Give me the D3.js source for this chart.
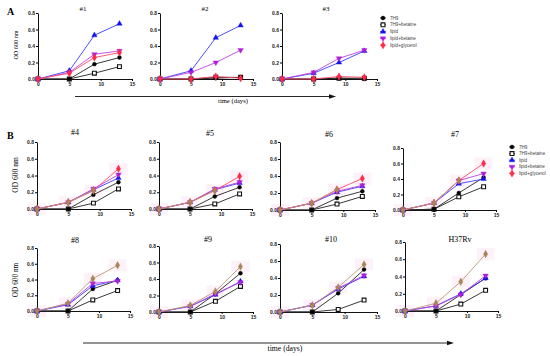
<!DOCTYPE html>
<html>
<head>
<meta charset="utf-8">
<script src="https://cdn.jsdelivr.net/npm/d3@7"></script>
<style>
  body { margin: 0; background: #fff; }
  svg { display: block; }
  .tick text { font-family: "Liberation Sans", Arial, sans-serif; font-size: 5px; font-weight: bold; fill: #222; }
  text.serif { font-family: "Liberation Serif", "Times New Roman", serif; fill: #000; }
  .legend text { font-family: "Liberation Sans", Arial, sans-serif; font-size: 4.6px; fill: #444; }
</style>
</head>
<body>
<div id="chart"></div>
<script>
// sampling days and series
let days = [0, 5, 9, 13];
let seriesNames = ["7H9", "7H9+betaine", "lipid", "lipid+betaine", "lipid+glycerol"];
let panelTitles = ["#1", "#2", "#3", "#4", "#5", "#6", "#7", "#8", "#9", "#10", "H37Rv"];
let yTicks = [0, 0.2, 0.4, 0.6, 0.8];
let xTicks = [0, 5, 10, 15];

// OD600 values, one row per panel (same order as panelTitles)
let od7H9 = [
  [0, 0, 0.18, 0.26], [0, 0, 0.01, 0.02], [0, 0, 0.01, 0.0],
  [0, 0, 0.17, 0.32], [0, 0, 0.15, 0.26], [0, 0, 0.14, 0.22], [0, 0.01, 0.22, 0.42],
  [0, 0, 0.28, 0.39], [0, 0, 0.22, 0.47], [0, 0, 0.22, 0.50], [0, 0, 0.19, 0.38]
];
let od7H9Betaine = [
  [0, 0, 0.07, 0.15], [0, 0, 0.02, 0.02], [0, 0, 0.01, 0.01],
  [0, 0, 0.07, 0.24], [0, 0, 0.06, 0.18], [0, 0, 0.07, 0.16], [0, 0.01, 0.17, 0.30],
  [0, 0, 0.14, 0.26], [0, 0, 0.13, 0.31], [0, 0, 0.03, 0.14], [0, 0, 0.08, 0.24]
];
let odLipid = [
  [0, 0.10, 0.53, 0.67], [0, 0.10, 0.50, 0.65], [0, 0.07, 0.20, 0.34],
  [0, 0.08, 0.23, 0.37], [0, 0.08, 0.23, 0.31], [0, 0.08, 0.21, 0.28], [0, 0.09, 0.34, 0.40],
  [0, 0.08, 0.32, 0.39], [0, 0.07, 0.21, 0.37], [0, 0.08, 0.27, 0.42], [0, 0.06, 0.20, 0.38]
];
let odLipidBetaine = [
  [0, 0.08, 0.30, 0.34], [0, 0.08, 0.20, 0.35], [0, 0.08, 0.25, 0.35],
  [0, 0.08, 0.24, 0.41], [0, 0.08, 0.24, 0.32], [0, 0.08, 0.22, 0.29], [0, 0.09, 0.38, 0.47],
  [0, 0.09, 0.35, 0.38], [0, 0.07, 0.22, 0.36], [0, 0.08, 0.28, 0.43], [0, 0.06, 0.19, 0.41]
];
let odLipidGlycerol = [
  [0, 0.07, 0.26, 0.32], [0, 0, 0.03, 0.01], [0, 0, 0.03, 0.02],
  [0, 0.08, 0.22, 0.48], [0, 0.08, 0.22, 0.39], [0, 0.08, 0.24, 0.37], [0, 0.09, 0.38, 0.60],
  null, null, null, null
];
// tan series seen in panel B
let odGlycerolTan = [
  null, null, null,
  [0, 0.08, 0.22, null], [0, 0.08, 0.22, null], [0, 0.08, 0.24, null], [0, 0.09, 0.38, null],
  [0, 0.10, 0.41, 0.58], [0, 0.08, 0.25, 0.55], [0, 0.08, 0.29, 0.56], [0, 0.09, 0.34, 0.66]
];

// panel placement (left of axis, y of 0.0, y of 0.8, width of 0..15)
let panelBoxes = [
  {x: 38, y0: 79, yTop: 13, w: 94}, {x: 160, y0: 79, yTop: 13, w: 93}, {x: 282, y0: 79, yTop: 13, w: 95},
  {x: 37, y0: 209, yTop: 142, w: 94}, {x: 159, y0: 209, yTop: 142, w: 93}, {x: 280, y0: 210, yTop: 142, w: 95}, {x: 403, y0: 210, yTop: 148, w: 93},
  {x: 37, y0: 311, yTop: 248, w: 93}, {x: 159, y0: 312, yTop: 246, w: 94}, {x: 280, y0: 312, yTop: 244, w: 97}, {x: 405, y0: 311, yTop: 242, w: 93}
];
let titlePos = [[83, 11], [205, 11], [326, 11], [75, 135], [210, 136], [329, 137], [455, 137], [75, 243], [208, 242], [331, 242], [460, 242]];

let width = 550, height = 356;

let styles = [
  {data: od7H9Betaine, color: "#111", line: "#222", type: d3.symbolSquare, size: 15, open: true},
  {data: od7H9, color: "#000", line: "#222", type: d3.symbolCircle, size: 12},
  {data: odLipid, color: "#1414f0", line: "#3a3aff", type: d3.symbolTriangle, size: 13},
  {data: odLipidBetaine, color: "#b01ed8", line: "#c040e0", type: d3.symbolTriangle, size: 13, flip: true},
  {data: odLipidGlycerol, color: "#ff2a48", line: "#ff4a68", type: d3.symbolDiamond, size: 16},
  {data: odGlycerolTan, color: "#a98558", line: "#b89870", type: d3.symbolDiamond, size: 16}
];
let legendStyles = [styles[1], styles[0], styles[2], styles[3], styles[4]];

let svg = d3.select("#chart").append("svg")
  .attr("width", width)
  .attr("height", height);

// draw each panel
panelTitles.forEach(function(title, i) {
  let box = panelBoxes[i];
  let x = d3.scaleLinear().domain([0, 15]).range([box.x, box.x + box.w]);
  let y = d3.scaleLinear().domain([0, 0.8]).range([box.y0, box.yTop]);
  let g = svg.append("g");

  // faint pink haze behind top points in B
  if (odGlycerolTan[i]) {
    g.selectAll(".haze")
      .data(days.map(function(d, j) { return [d, odGlycerolTan[i][j] != null ? odGlycerolTan[i][j] : odLipidGlycerol[i][j]]; }))
      .enter().append("rect")
      .attr("x", function(d) { return x(d[0]) - 9; })
      .attr("y", function(d) { return y(d[1]) - 6; })
      .attr("width", 18)
      .attr("height", 12)
      .style("fill", "#fbe6f4")
      .style("opacity", 0.5);
  }

  g.append("g")
    .attr("transform", "translate(" + box.x + ",0)")
    .call(d3.axisLeft(y).tickValues(yTicks).tickFormat(d3.format(".1f")).tickSize(2).tickSizeOuter(0).tickPadding(1))
    .call(function(a) { a.select(".domain").attr("stroke", "#111"); });
  g.append("g")
    .attr("transform", "translate(0," + box.y0 + ")")
    .call(d3.axisBottom(x).tickValues(xTicks).tickFormat(d3.format("d")).tickSize(2).tickSizeOuter(0).tickPadding(1))
    .call(function(a) { a.select(".domain").attr("stroke", "#111"); });

  styles.forEach(function(s) {
    let vals = s.data[i];
    if (!vals) return;
    let pts = days.map(function(d, j) { return [d, vals[j]]; }).filter(function(p) { return p[1] != null; });
    g.append("path")
      .datum(pts)
      .attr("d", d3.line().x(function(p) { return x(p[0]); }).y(function(p) { return y(p[1]); }))
      .style("fill", "none")
      .style("stroke", s.line)
      .style("stroke-width", 0.9);
    g.selectAll(null)
      .data(pts)
      .enter().append("path")
      .attr("d", d3.symbol().type(s.type).size(s.size))
      .attr("transform", function(p) { return "translate(" + x(p[0]) + "," + y(p[1]) + ")" + (s.flip ? " rotate(180)" : ""); })
      .style("fill", s.open ? "#fff" : s.color)
      .style("stroke", s.color)
      .style("stroke-width", s.open ? 1.1 : 0.4);
  });

  g.append("text")
    .attr("class", "serif")
    .attr("x", titlePos[i][0])
    .attr("y", titlePos[i][1])
    .attr("text-anchor", "middle")
    .style("font-size", i < 3 ? "7px" : "8px")
    .text(title);
});

// panel letters
svg.append("text").attr("class", "serif").attr("x", 7).attr("y", 15)
  .style("font-size", "10px").style("font-weight", "bold").text("A");
svg.append("text").attr("class", "serif").attr("x", 7).attr("y", 139)
  .style("font-size", "10px").style("font-weight", "bold").text("B");

// y titles
[[16, 45, 6.2], [16, 175, 7.5], [16, 280, 7.3]].forEach(function(p) {
  svg.append("text")
    .attr("class", "serif")
    .attr("transform", "translate(" + (p[0] + 2) + "," + p[1] + ") rotate(-90)")
    .attr("text-anchor", "middle")
    .style("font-size", p[2] + "px")
    .text("OD 600 nm");
});

// time arrows
function timeArrow(x1, x2, yy, tx, ty, fs) {
  svg.append("line")
    .attr("x1", x1).attr("x2", x2 - 6)
    .attr("y1", yy).attr("y2", yy)
    .style("stroke", "#111").style("stroke-width", 0.9);
  svg.append("path")
    .attr("d", "M" + x2 + "," + yy + "L" + (x2 - 7) + "," + (yy - 2.2) + "L" + (x2 - 7) + "," + (yy + 2.2) + "Z")
    .style("fill", "#111");
  svg.append("text")
    .attr("class", "serif")
    .attr("x", tx)
    .attr("y", ty)
    .attr("text-anchor", "middle")
    .style("font-size", fs + "px")
    .text("time (days)");
}
timeArrow(75, 336, 96.5, 233, 103, 6.6);
timeArrow(83, 454, 343, 285, 351, 7.7);

// legends
function drawLegend(lx, ly, step) {
  let lg = svg.append("g").attr("class", "legend")
    .attr("transform", "translate(" + lx + "," + ly + ")");
  legendStyles.forEach(function(s, k) {
    let row = lg.append("g").attr("transform", "translate(0," + (k * step) + ")");
    row.append("line").attr("x1", -3).attr("x2", 3)
      .style("stroke", s.line).style("stroke-width", 0.9);
    row.append("path")
      .attr("d", d3.symbol().type(s.type).size(s.size))
      .attr("transform", s.flip ? "rotate(180)" : null)
      .style("fill", s.open ? "#fff" : s.color)
      .style("stroke", s.color)
      .style("stroke-width", s.open ? 1.1 : 0.4);
    row.append("text").attr("x", 7).attr("y", 1.6).text(seriesNames[k]);
  });
}
drawLegend(383, 18, 6.8);
drawLegend(512, 147, 6.6);
</script>
</body>
</html>
